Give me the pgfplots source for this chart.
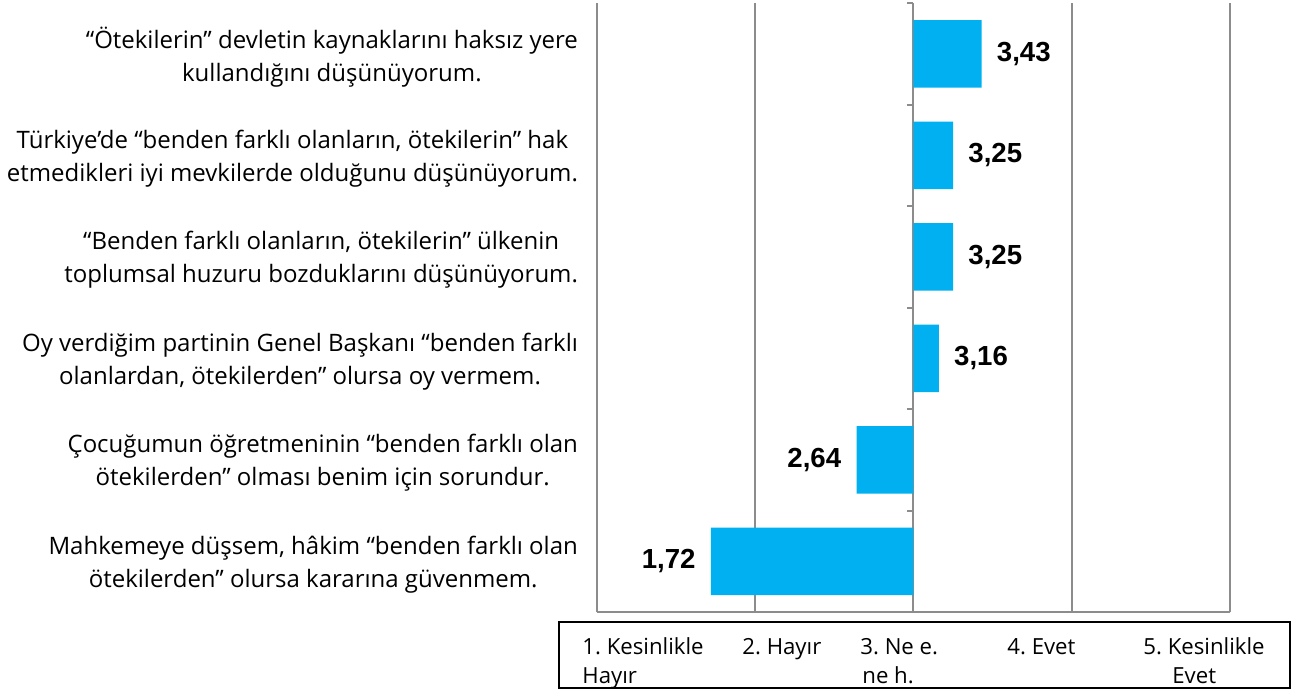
\documentclass[border=0pt]{standalone}
\usepackage{pgfplots}
\pgfplotsset{compat=1.18}
\usepackage{pgfplotstable}
\usepackage{fontspec}
\setmainfont{Open Sans}
\newfontfamily\labelfont{Liberation Sans}
\definecolor{barblue}{HTML}{00B0F0}
\definecolor{gridgray}{HTML}{8C8C8C}

\pgfplotstableread{
idx v
1 3.43
2 3.25
3 3.25
4 3.16
5 2.64
6 1.72
}\datatable

\begin{document}
\frenchspacing
\begin{tikzpicture}
\useasboundingbox (0pt,0pt) rectangle (649pt,-346pt);
\begin{axis}[
  at={(298.5pt,-306pt)}, anchor=south west,
  scale only axis, width=316.5pt, height=304.5pt,
  xmin=-2, xmax=2, ymin=0.5, ymax=6.5, y dir=reverse,
  axis x line=bottom, axis y line=middle,
  x axis line style={gridgray, line width=1pt, -},
  y axis line style={gridgray, line width=1pt, -},
  xtick={-2,-1,0,1,2}, xticklabels={}, major x tick style={draw=none},
  xmajorgrids, major grid style={gridgray, line width=1pt},
  ytick={1,...,6}, major y tick style={draw=none},
  minor ytick={0.5,1.5,...,6.5},
  minor y tick style={gridgray, line width=1pt},
  minor tick length=3pt, tick align=outside,
  yticklabels={
    {“Ötekilerin” devletin kaynaklarını haksız yere\\kullandığını düşünüyorum.},
    {Türkiye’de “benden farklı olanların, ötekilerin” hak\\etmedikleri iyi mevkilerde olduğunu düşünüyorum.},
    {“Benden farklı olanların, ötekilerin” ülkenin\\toplumsal huzuru bozduklarını düşünüyorum.},
    {Oy verdiğim partinin Genel Başkanı “benden farklı\\olanlardan, ötekilerden” olursa oy vermem.},
    {Çocuğumun öğretmeninin “benden farklı olan\\ötekilerden” olması benim için sorundur.},
    {Mahkemeye düşsem, hâkim “benden farklı olan\\ötekilerden” olursa kararına güvenmem.}
  },
  yticklabel style={font=\fontsize{12}{16.5}\selectfont, align=center, anchor=east, xshift=-160pt, yshift=-1.5pt},
  xbar, bar width=33.75pt,
  clip=false,
  point meta=x,
  nodes near coords={\pgfkeys{/pgf/fpu=true}\pgfmathparse{\pgfplotspointmeta+3}\pgfmathprintnumber{\pgfmathresult}},
  nodes near coords align={horizontal},
  every node near coord/.append style={font=\labelfont\fontsize{13.8}{16}\selectfont\bfseries, inner xsep=7.5pt, black},
  /pgf/number format/use comma,
  /pgf/number format/fixed,
  /pgf/number format/fixed zerofill,
  /pgf/number format/precision=2,
  /pgf/number format/assume math mode=true,
]
\addplot[fill=barblue, draw=none] table[x expr=\thisrow{v}-3, y=idx] {\datatable};
\end{axis}
\draw[black, line width=0.75pt] (279.5pt,-311pt) rectangle (645pt,-344pt);
\begin{scope}[every node/.style={font=\fontsize{11.1}{13}\selectfont, inner sep=0pt, anchor=base west}]
\node at (291pt,-327pt) {1. Kesinlikle};
\node at (291pt,-341.5pt) {Hayır};
\node at (371pt,-327pt) {2. Hayır};
\node at (430pt,-327pt) {3. Ne e.};
\node at (431pt,-341.5pt) {ne h.};
\node at (503.5pt,-327pt) {4. Evet};
\node at (571.5pt,-327pt) {5. Kesinlikle};
\node at (586pt,-341.5pt) {Evet};
\end{scope}
\end{tikzpicture}
\end{document}
